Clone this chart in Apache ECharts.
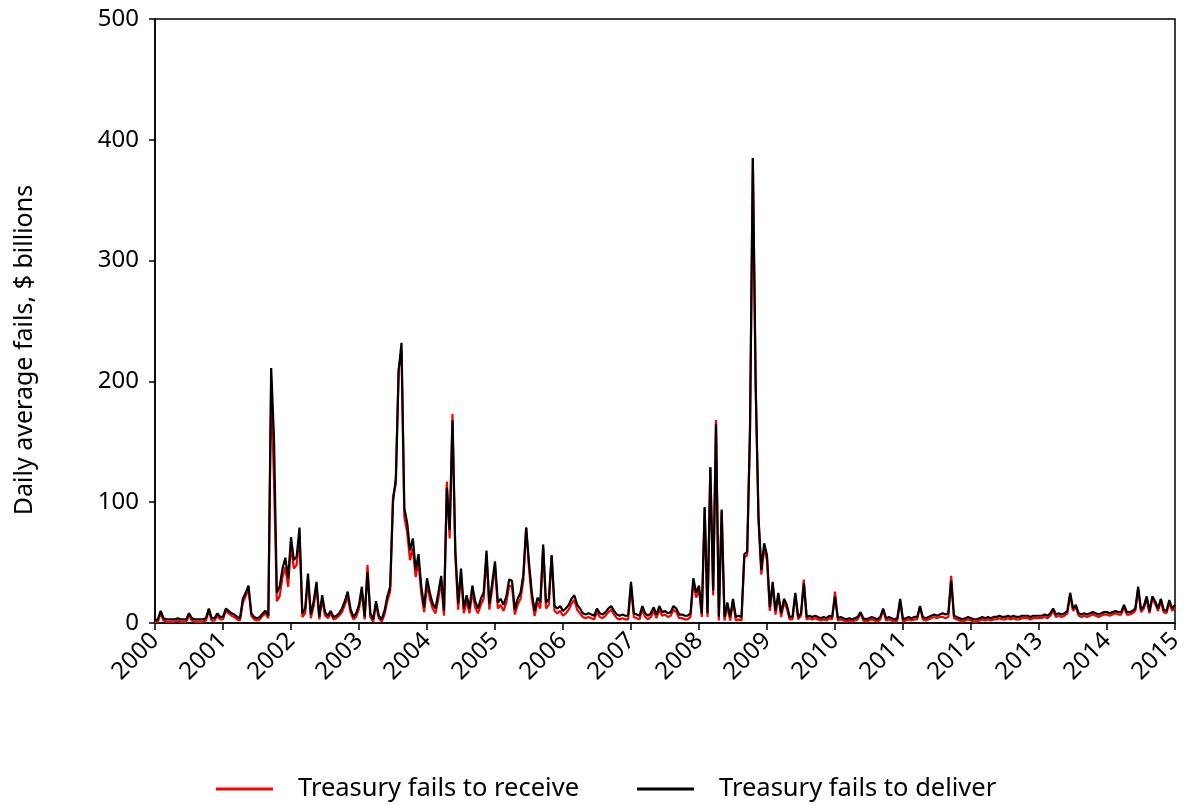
<!DOCTYPE html>
<html>
<head>
<meta charset="utf-8">
<script src="https://cdn.jsdelivr.net/npm/echarts@6/dist/echarts.min.js"></script>
<style>
html,body{margin:0;padding:0;background:#fff;}
#chart{width:1189px;height:805px;}
</style>
</head>
<body>
<div id="chart"></div>
<script>
// Half-monthly observations (1st and 15th of each month), 2000-01-01 .. 2015-01-01
const years = [2000,2001,2002,2003,2004,2005,2006,2007,2008,2009,2010,2011,2012,2013,2014];
const yTicks = [0,100,200,300,400,500];
const yTitle = 'Daily average fails, $ billions';
const seriesNames = ['Treasury fails to receive', 'Treasury fails to deliver'];

// Treasury fails to deliver ($ billions), 24 values per year
const deliver = [
  /*2000*/ 2,3,10,4,3,3,3,3,4,3,3,3,8,4,3,3,3,3,4,12,4,4,8,5,
  /*2001*/ 5,12,10,8,7,5,4,20,25,31,8,5,4,5,8,10,6,211,153,25,30,45,54,37,
  /*2002*/ 71,52,55,79,8,12,41,7,18,34,5,23,9,6,10,5,6,8,12,18,26,12,5,8,
  /*2003*/ 15,30,5,42,8,3,18,6,3,10,22,30,100,120,209,232,95,83,60,70,44,57,30,13,
  /*2004*/ 37,25,16,12,25,39,10,112,77,168,60,16,45,12,23,12,31,18,12,20,25,60,16,33,
  /*2005*/ 51,17,20,15,22,36,35,11,20,25,40,79,50,25,10,21,17,65,17,20,56,14,12,14,
  /*2006*/ 10,12,15,20,23,15,12,8,7,8,7,6,12,8,7,9,12,14,10,7,6,7,6,6,
  /*2007*/ 34,8,7,6,14,8,6,8,13,7,14,9,10,8,9,14,12,7,7,6,6,8,37,25,
  /*2008*/ 31,8,96,8,129,27,165,5,94,5,17,5,20,5,6,5,57,59,160,385,198,88,44,66,
  /*2009*/ 56,13,34,10,25,8,20,15,5,5,25,5,8,33,5,6,5,6,5,4,5,4,6,5,
  /*2010*/ 22,4,5,4,3,4,3,4,5,9,4,3,4,5,4,3,5,12,4,5,4,3,4,20,
  /*2011*/ 3,4,5,4,5,5,14,5,4,5,6,7,6,7,8,7,8,35,6,5,4,3,4,5,
  /*2012*/ 4,3,3,4,5,4,5,4,5,5,6,5,5,6,5,6,5,5,6,6,6,5,6,6,
  /*2013*/ 6,6,7,6,8,12,7,8,7,8,10,25,12,15,8,7,8,7,8,9,8,7,8,9,
  /*2014*/ 9,8,9,10,9,9,15,9,9,10,12,30,11,14,22,10,22,18,12,20,11,10,19,12,
  /*2015*/ 15
];

// Treasury fails to receive ($ billions), 24 values per year
const receive = [
  /*2000*/ 1,1,8,2,1,1,1,1,2,1,1,1,6,2,1,1,1,1,2,10,2,2,6,3,
  /*2001*/ 3,10,8,6,5,3,2,17,22,28,6,3,2,3,6,8,4,200,117,18,22,38,46,30,
  /*2002*/ 65,45,48,72,5,8,36,4,14,30,3,20,6,4,8,3,4,6,9,15,22,9,3,5,
  /*2003*/ 12,26,3,48,5,1,15,4,1,7,18,26,105,115,210,225,88,75,52,62,38,50,24,9,
  /*2004*/ 32,20,12,8,20,34,6,117,70,173,55,11,40,8,18,8,26,13,8,15,20,55,11,28,
  /*2005*/ 48,12,15,10,17,31,30,7,15,20,35,79,45,20,6,17,12,62,12,15,56,10,8,10,
  /*2006*/ 6,8,11,16,19,11,8,5,4,5,4,3,9,5,4,6,9,11,7,4,3,4,3,3,
  /*2007*/ 31,5,4,3,11,5,3,5,10,4,11,6,7,5,6,11,9,4,4,3,3,5,34,21,
  /*2008*/ 27,5,95,5,129,23,168,2,92,2,14,2,18,2,3,2,54,56,158,385,195,85,40,62,
  /*2009*/ 52,10,31,7,22,5,17,12,3,3,23,3,6,36,3,4,3,4,3,2,3,2,4,3,
  /*2010*/ 26,2,3,2,1,2,1,2,3,8,2,1,2,3,2,1,3,11,2,3,2,1,2,18,
  /*2011*/ 1,2,3,2,3,3,13,3,2,3,4,5,4,5,5,4,5,39,4,3,2,1,2,3,
  /*2012*/ 2,1,1,2,3,2,3,2,3,3,4,3,3,4,3,4,3,3,4,4,4,3,4,4,
  /*2013*/ 4,4,5,4,6,10,5,6,5,6,8,23,10,13,6,5,6,5,6,7,6,5,6,7,
  /*2014*/ 7,6,7,8,7,7,13,7,7,8,10,28,9,12,20,8,20,16,10,18,9,8,17,10,
  /*2015*/ 13
];

// category labels (dates)
const dates = [];
years.forEach(function (y) {
  for (let m = 1; m <= 12; m++) {
    const mm = (m < 10 ? '0' : '') + m;
    dates.push(y + '-' + mm + '-01');
    dates.push(y + '-' + mm + '-15');
  }
});
dates.push('2015-01-01');

const FONT = 'Noto Sans';
const isYearStart = function (idx, val) { return /-01-01$/.test(val); };

const chart = echarts.init(document.getElementById('chart'), null, { renderer: 'canvas' });
chart.setOption({
  animation: false,
  backgroundColor: '#ffffff',
  textStyle: { fontFamily: FONT, color: '#000' },
  grid: {
    left: 155, right: 14, top: 19, bottom: 182,
    show: true, borderColor: '#000', borderWidth: 1.5, backgroundColor: 'transparent'
  },
  graphic: [{
    type: 'text',
    x: 25, y: 350,
    rotation: Math.PI / 2,
    style: {
      text: yTitle, fontFamily: FONT, fontSize: 25, fill: '#000',
      align: 'center', verticalAlign: 'middle'
    }
  }],
  legend: {
    data: seriesNames,
    left: 211, top: 771,
    icon: 'rect', itemWidth: 57, itemHeight: 3, itemGap: 58,
    textStyle: { fontFamily: FONT, fontSize: 25.5, color: '#000', padding: [0, 0, 0, 20] }
  },
  xAxis: {
    type: 'category',
    data: dates,
    boundaryGap: false,
    axisLine: { lineStyle: { color: '#000', width: 1.5 } },
    axisTick: { show: true, interval: isYearStart, length: 7, lineStyle: { color: '#000', width: 1.5 } },
    axisLabel: {
      interval: isYearStart, rotate: 45, margin: 14,
      fontFamily: FONT, fontSize: 24, color: '#000',
      formatter: function (v) { return v.slice(0, 4); }
    },
    splitLine: { show: false }
  },
  yAxis: {
    type: 'value',
    min: yTicks[0], max: yTicks[yTicks.length - 1], interval: 100,
    axisLine: { show: true, lineStyle: { color: '#000', width: 1.5 } },
    axisTick: { show: true, length: 6, lineStyle: { color: '#000', width: 1.5 } },
    axisLabel: { margin: 16, fontFamily: FONT, fontSize: 24, color: '#000' },
    splitLine: { show: false }
  },
  series: [
    {
      name: seriesNames[0], type: 'line', data: receive,
      showSymbol: false, symbol: 'none',
      lineStyle: { color: '#ff0000', width: 2.2 }, itemStyle: { color: '#ff0000' }, z: 2
    },
    {
      name: seriesNames[1], type: 'line', data: deliver,
      showSymbol: false, symbol: 'none',
      lineStyle: { color: '#000000', width: 2.2 }, itemStyle: { color: '#000000' }, z: 3
    }
  ]
});
</script>
</body>
</html>
